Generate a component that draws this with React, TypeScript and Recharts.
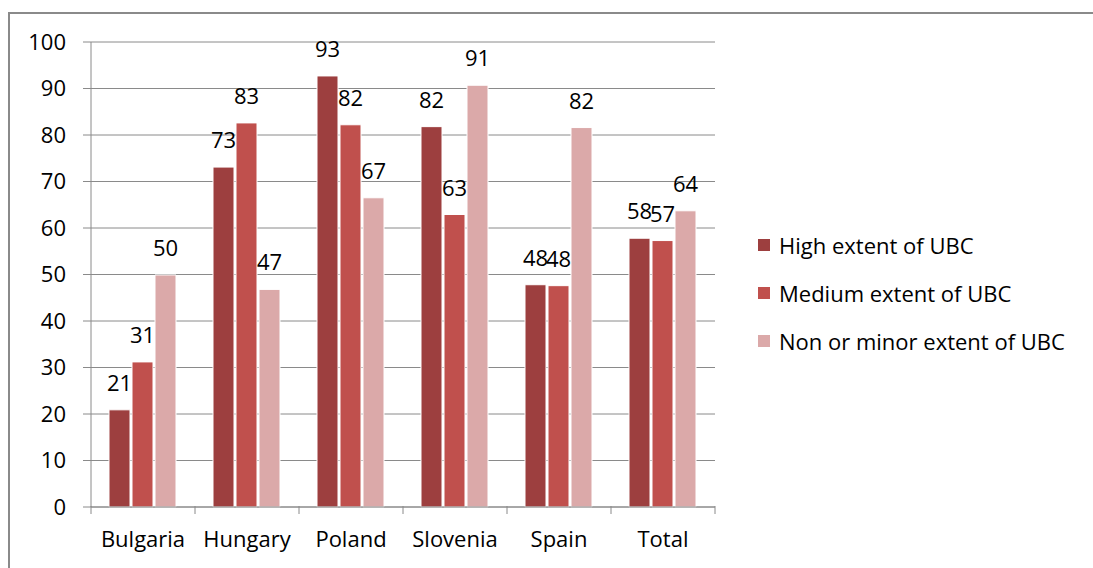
import { Bar, BarChart, CartesianGrid, LabelList, Legend, XAxis, YAxis } from 'recharts';

const categories = ['Bulgaria', 'Hungary', 'Poland', 'Slovenia', 'Spain', 'Total'];
const highExtent = [20.9, 73.1, 92.7, 81.8, 47.8, 57.8];
const mediumExtent = [31.2, 82.6, 82.2, 62.9, 47.6, 57.3];
const minorExtent = [49.9, 46.8, 66.5, 90.7, 81.6, 63.7];
const yTicks = [0, 10, 20, 30, 40, 50, 60, 70, 80, 90, 100];

const seriesNames = ['High extent of UBC', 'Medium extent of UBC', 'Non or minor extent of UBC'];
const seriesColors = ['#9d3f3f', '#c0504d', '#dba9a9'];

const data = categories.map((name, i) => ({
  name,
  high: highExtent[i],
  medium: mediumExtent[i],
  minor: minorExtent[i],
}));

const FONT = '"Open Sans", Lato, sans-serif';
const FS = 22;
const GRID = '#8a8a8a';
const W = 1093;
const H = 568;
const PLOT_LEFT = 91;
const PLOT_RIGHT = 715;
const BAND = (PLOT_RIGHT - PLOT_LEFT) / categories.length;

function XTick(props: any) {
  const { x, y, payload, index } = props;
  const half = BAND / 2;
  return (
    <g>
      <line x1={x - half} x2={x - half} y1={y - 25} y2={y - 17} stroke={GRID} />
      {index === categories.length - 1 && (
        <line x1={x + half} x2={x + half} y1={y - 25} y2={y - 17} stroke={GRID} />
      )}
      <text x={x} y={y} dy="0.71em" textAnchor="middle" fontSize={FS} fontFamily={FONT} fill="#000">
        {payload.value}
      </text>
    </g>
  );
}

function LegendBox(props: any) {
  const items = props.payload ?? [];
  return (
    <div style={{ fontFamily: FONT, fontSize: FS, color: '#000' }}>
      {items.map((it: any) => (
        <div key={it.value} style={{ display: 'flex', alignItems: 'center', height: 48 }}>
          <span
            style={{ width: 12, height: 12, background: it.color, display: 'inline-block', marginRight: 9 }}
          />
          <span>{it.value}</span>
        </div>
      ))}
    </div>
  );
}

export default function App() {
  const keys = ['high', 'medium', 'minor'];
  return (
    <div style={{ position: 'absolute', left: 0, top: 0, width: W, height: H, background: '#fff', overflow: 'hidden' }}>
      <div
        style={{
          position: 'absolute',
          left: 8,
          top: 12,
          width: W,
          height: H,
          borderLeft: `2px solid ${GRID}`,
          borderTop: `2px solid ${GRID}`,
        }}
      />
      <BarChart
        width={W}
        height={H}
        data={data}
        margin={{ top: 42, right: W - PLOT_RIGHT, left: 11, bottom: 11 }}
        barCategoryGap={18}
        barGap={2}
        style={{ position: 'absolute', left: 0, top: 0 }}
      >
        <CartesianGrid stroke={GRID} vertical={false} />
        <YAxis
          domain={[0, 100]}
          ticks={yTicks}
          width={80}
          tickSize={8}
          tickMargin={17}
          axisLine={{ stroke: GRID }}
          tickLine={{ stroke: GRID }}
          tick={{ fontSize: FS, fontFamily: FONT, fill: '#000' }}
        />
        <XAxis
          dataKey="name"
          height={50}
          tickSize={8}
          tickMargin={16}
          axisLine={{ stroke: GRID }}
          tickLine={false}
          interval={0}
          tick={<XTick />}
        />
        <Legend
          layout="vertical"
          align="center"
          verticalAlign="middle"
          wrapperStyle={{ left: 758, top: 221, width: 335 }}
          content={<LegendBox />}
        />
        {keys.map((k, i) => (
          <Bar
            key={k}
            dataKey={k}
            name={seriesNames[i]}
            fill={seriesColors[i]}
            stroke="#fff"
            strokeWidth={1}
            isAnimationActive={false}
          >
            <LabelList
              dataKey={k}
              position="top"
              offset={19}
              formatter={(v: any) => Math.round(Number(v))}
              style={{ fontSize: FS, fontFamily: FONT, fill: '#000' }}
            />
          </Bar>
        ))}
      </BarChart>
    </div>
  );
}
